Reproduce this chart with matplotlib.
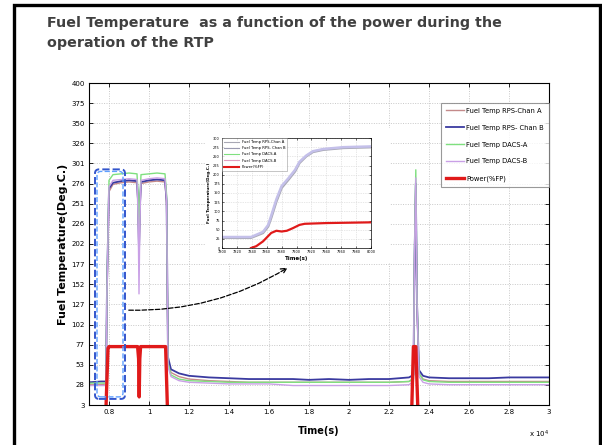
import numpy as np
import matplotlib.pyplot as plt
from matplotlib.patches import Rectangle, FancyBboxPatch
from matplotlib.lines import Line2D

# Main trace, time in units of 10^4 s
t = [0.70, 0.76, 0.785, 0.79, 0.80, 0.82, 0.86, 0.90, 0.94, 0.946,
     0.95, 0.954, 0.96, 1.00, 1.04, 1.08, 1.088, 1.095, 1.11, 1.15,
     1.20, 1.30, 1.40, 1.50, 1.60, 1.72, 1.80, 1.90, 2.00, 2.10,
     2.20, 2.30, 2.322, 2.328, 2.334, 2.340, 2.350, 2.370, 2.40, 2.50,
     2.60, 2.70, 2.80, 2.90, 3.00]
temp_rps_a = [28, 28, 29, 140, 266, 275, 277, 278, 277, 245,
              180, 240, 276, 278, 279, 278, 250, 58, 43, 38,
              35, 33, 32, 31, 31, 31, 31, 31, 31, 31,
              31, 32, 35, 185, 272, 125, 42, 35, 33, 32,
              32, 32, 32, 32, 32]
temp_rps_b = [31, 32, 32, 150, 270, 277, 279, 280, 279, 250,
              190, 245, 278, 280, 281, 280, 255, 62, 47, 42,
              39, 37, 36, 35, 35, 35, 34, 35, 34, 35,
              35, 37, 40, 190, 276, 130, 46, 39, 37, 36,
              36, 36, 37, 37, 37]
temp_dacs_a = [30, 30, 30, 150, 280, 287, 288, 289, 288, 260,
               200, 255, 287, 288, 289, 288, 262, 55, 40, 35,
               33, 32, 31, 31, 31, 31, 31, 31, 31, 31,
               31, 32, 36, 200, 293, 135, 42, 34, 32, 31,
               31, 31, 31, 31, 31]
temp_dacs_b = [27, 27, 27, 145, 272, 280, 281, 282, 281, 230,
               140, 225, 280, 282, 283, 282, 255, 50, 38, 33,
               31, 30, 29, 29, 29, 27, 27, 27, 27, 27,
               27, 28, 32, 195, 283, 128, 38, 31, 29, 28,
               28, 28, 28, 28, 28]
t_power = [0.70, 0.785, 0.795, 0.80, 0.943, 0.948, 0.951, 0.954, 0.958,
           1.083, 1.092, 1.10, 2.314, 2.322, 2.334, 2.344, 2.36, 3.00]
power = [0, 0, 73, 75, 75, 60, 13, 60, 75, 75, 0, 0, 0, 75, 75, 0, 0, 0]

x_ticks = [0.8, 1.0, 1.2, 1.4, 1.6, 1.8, 2.0, 2.2, 2.4, 2.6, 2.8, 3.0]
x_tick_labels = ['0.8', '1', '1.2', '1.4', '1.6', '1.8', '2', '2.2', '2.4', '2.6', '2.8', '3']
y_ticks = np.linspace(3, 400, 17)
y_tick_labels = ['3', '28', '53', '77', '102', '127', '152', '177', '202',
                 '226', '251', '276', '301', '326', '350', '375', '400']

# Inset: start-up zoom
inset_t = [7800, 7839, 7855, 7862, 7866, 7873, 7880, 7889, 7898, 7904, 7913, 7922, 7936, 7963, 8000]
inset_temp_a = [28, 28, 41, 59, 82, 127, 164, 186, 209, 232, 250, 262, 268, 273, 275]
inset_temp_b = [30, 30, 44, 63, 88, 133, 169, 190, 213, 235, 252, 264, 270, 275, 277]
inset_power_t = [7839, 7846, 7855, 7866, 7873, 7880, 7887, 7895, 7904, 7911, 7940, 8000]
inset_power = [0, 5, 18, 41, 47, 45, 47, 54, 63, 66, 68, 70]
inset_x_ticks = list(range(7800, 8001, 20))
inset_y_ticks = list(range(0, 301, 25))

labels = ['Fuel Temp RPS-Chan A', 'Fuel Temp RPS- Chan B', 'Fuel Temp DACS-A',
          'Fuel Temp DACS-B', 'Power(%FP)']
colors = ['#c48a8a', '#3a3aa0', '#7fe07f', '#c9a0e6', '#e01a1a']

fig = plt.figure(figsize=(6.02, 4.45), dpi=100)
fig.patch.set_facecolor('white')

# slide frame and title
fig.patches.append(Rectangle((13.5 / 602, -0.05), 586 / 602, 1.05 - 5 / 445,
                             transform=fig.transFigure, fill=False,
                             edgecolor='black', lw=2.4))
fig.text(47 / 602, 1 - 33 / 445, 'Fuel Temperature  as a function of the power during the\noperation of the RTP',
         family='DejaVu Sans', weight='bold', fontsize=10.3, color='#404040',
         ha='left', va='center', linespacing=1.5)

ax = fig.add_axes([89 / 602, 40 / 445, 460 / 602, 322 / 445])
ax.plot(t, temp_rps_a, color=colors[0], lw=1.0, label=labels[0])
ax.plot(t, temp_rps_b, color=colors[1], lw=1.3, label=labels[1])
ax.plot(t, temp_dacs_a, color=colors[2], lw=1.0, label=labels[2])
ax.plot(t, temp_dacs_b, color=colors[3], lw=1.0, label=labels[3])
ax.plot(t_power, power, color=colors[4], lw=2.4, label=labels[4])

ax.set_xlim(0.7, 3.0)
ax.set_ylim(3, 400)
ax.set_xticks(x_ticks)
ax.set_xticklabels(x_tick_labels)
ax.set_yticks(y_ticks)
ax.set_yticklabels(y_tick_labels)
ax.tick_params(direction='in', top=True, right=True, length=3, width=0.6,
               labelsize=5, pad=3)
ax.grid(True, color='#c8c8c8', linestyle=(0, (1, 1.5)), lw=0.7)
for s in ax.spines.values():
    s.set_linewidth(0.8)
ax.set_xlabel('Time(s)', fontsize=7, weight='bold')
ax.xaxis.set_label_coords(0.5, -0.065)
ax.set_ylabel('Fuel Temperature(Deg.C.)', fontsize=8, weight='bold')
ax.yaxis.set_label_coords(-0.045, 0.5)
ax.text(1.0, -0.09, r'x 10$^4$', transform=ax.transAxes, fontsize=5,
        ha='right', va='center')

leg = ax.legend(loc='upper right', bbox_to_anchor=(1.0, 0.938), fontsize=4.9,
                frameon=True, fancybox=False, edgecolor='#808080',
                borderaxespad=0, labelspacing=1.6, handlelength=2.6,
                handletextpad=0.4, borderpad=0.7)
leg.get_frame().set_linewidth(0.8)

# highlight box around start-up
ax.add_patch(FancyBboxPatch((0.73, 10.5), 0.15, 283,
                            boxstyle='round,pad=0,rounding_size=0.02',
                            mutation_aspect=246, fill=False,
                            edgecolor='#3355cc', lw=1.4, linestyle='--', zorder=5))
ax.add_patch(FancyBboxPatch((0.74, 13), 0.13, 278,
                            boxstyle='round,pad=0,rounding_size=0.02',
                            mutation_aspect=246, fill=False,
                            edgecolor='#5fa0ff', lw=1.0, linestyle='--', zorder=5))

ax.annotate('', xy=(1.705, 174), xytext=(0.885, 120),
            arrowprops=dict(arrowstyle='->', linestyle='--', color='black',
                            lw=0.9, connectionstyle='arc3,rad=0.15'))

# inset
fig.patches.append(Rectangle((205 / 602, (445 - 263) / 445), 185 / 602, 135 / 445,
                             transform=fig.transFigure, facecolor='white',
                             edgecolor='none', zorder=0.5))
axi = fig.add_axes([222 / 602, (445 - 248) / 445, 149 / 602, 110 / 445])
axi.set_zorder(1)
axi.plot(inset_t, inset_temp_a, color='#a8a8b4', lw=1.8)
axi.plot(inset_t, inset_temp_b, color='#c4c0ea', lw=1.8)
axi.plot(inset_power_t, inset_power, color='#e01a1a', lw=1.6)
axi.set_xlim(7800, 8000)
axi.set_ylim(0, 300)
axi.set_xticks(inset_x_ticks)
axi.set_yticks(inset_y_ticks)
axi.tick_params(direction='in', top=True, right=True, length=1.5, width=0.4,
                labelsize=2.5, pad=1.5)
axi.grid(True, color='#d0d0d0', linestyle=(0, (1, 1.5)), lw=0.5)
for s in axi.spines.values():
    s.set_linewidth(0.5)
axi.set_xlabel('Time(s)', fontsize=4, weight='bold', labelpad=1.5)
axi.set_ylabel('Fuel Temperature(Deg.C.)', fontsize=3, weight='bold', labelpad=1.5)
inset_handles = [Line2D([], [], color=c, lw=w) for c, w in
                 zip(['#a8a8b4', '#9a9ab0', '#7fe07f', '#e0a0c0', '#e01a1a'],
                     [0.8, 0.8, 0.8, 0.8, 1.5])]
li = axi.legend(inset_handles, labels, loc='upper left', fontsize=2.7,
                frameon=True, fancybox=False, edgecolor='#808080',
                borderaxespad=0, labelspacing=0.6, handlelength=4,
                handletextpad=0.8, borderpad=0.5)
li.get_frame().set_linewidth(0.4)

fig.savefig('out.png', dpi=100)
